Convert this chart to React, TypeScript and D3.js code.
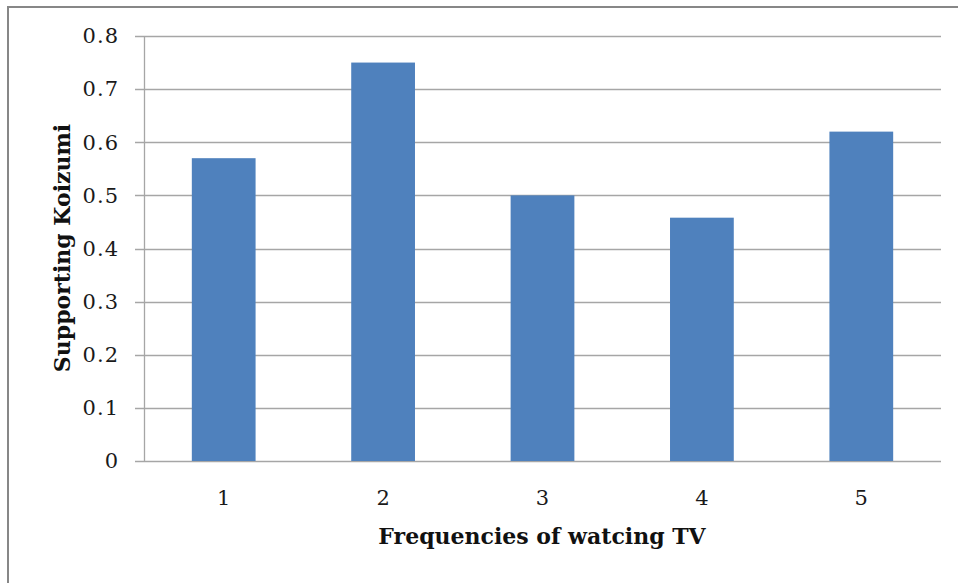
import React from "react";
import * as d3 from "d3";

const categories = ["1", "2", "3", "4", "5"];
const values = [0.57, 0.75, 0.5, 0.458, 0.62];
const yTicks = [0, 0.1, 0.2, 0.3, 0.4, 0.5, 0.6, 0.7, 0.8];
const xTitle = "Frequencies of watcing TV";
const yTitle = "Supporting Koizumi";

const W = 958;
const H = 583;
const plot = { left: 144, right: 941, top: 36, bottom: 461 };
const font = "'DejaVu Serif', 'Liberation Serif', serif";

export default function App() {
  const x = d3
    .scaleBand<string>()
    .domain(categories)
    .range([plot.left, plot.right])
    .paddingInner(0.6)
    .paddingOuter(0.3);
  const y = d3.scaleLinear().domain([0, 0.8]).range([plot.bottom, plot.top]);
  const fmt = (v: number) => (v === 0 ? "0" : d3.format(".1f")(v));

  return (
    <svg
      width={W}
      height={H}
      style={{ position: "absolute", left: 0, top: 0, background: "#fff" }}
    >
      <rect x={0} y={0} width={W} height={H} fill="#fff" />
      <rect
        x={8}
        y={7}
        width={W + 50}
        height={H + 50}
        fill="none"
        stroke="#878787"
        strokeWidth={2}
      />
      {yTicks.map((t) => (
        <g key={t}>
          <line
            x1={plot.left - 9}
            x2={plot.right}
            y1={Math.round(y(t)) + 0.5}
            y2={Math.round(y(t)) + 0.5}
            stroke="#a6a6a6"
            strokeWidth={1.3}
          />
          <text
            x={119}
            y={y(t)}
            dy="0.35em"
            textAnchor="end"
            fontFamily={font}
            fontSize={21}
            letterSpacing={1}
            fill="#1a1a1a"
          >
            {fmt(t)}
          </text>
        </g>
      ))}
      <line
        x1={plot.left + 0.5}
        x2={plot.left + 0.5}
        y1={plot.top}
        y2={plot.bottom}
        stroke="#a6a6a6"
        strokeWidth={1.3}
      />
      {categories.map((c, i) => (
        <g key={c}>
          <rect
            x={x(c)!}
            y={y(values[i])}
            width={x.bandwidth()}
            height={plot.bottom - y(values[i])}
            fill="#4f81bd"
          />
          <text
            x={x(c)! + x.bandwidth() / 2}
            y={498}
            dy="0.35em"
            textAnchor="middle"
            fontFamily={font}
            fontSize={21}
            fill="#1a1a1a"
          >
            {c}
          </text>
        </g>
      ))}
      <text
        x={542}
        y={536}
        dy="0.35em"
        textAnchor="middle"
        fontFamily={font}
        fontSize={22}
        fontWeight="bold"
        fill="#111"
      >
        {xTitle}
      </text>
      <text
        transform={`translate(62,248) rotate(-90)`}
        dy="0.35em"
        textAnchor="middle"
        fontFamily={font}
        fontSize={22}
        fontWeight="bold"
        fill="#111"
      >
        {yTitle}
      </text>
    </svg>
  );
}
